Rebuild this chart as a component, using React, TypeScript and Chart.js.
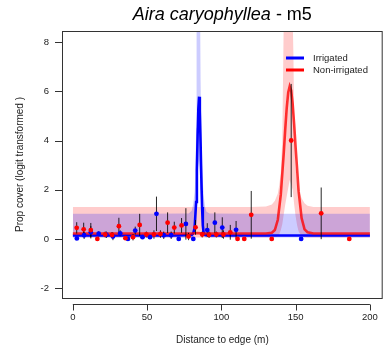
import React, { useEffect, useRef } from "react";
import { Chart, registerables } from "chart.js";

Chart.register(...registerables);

// ---- Data ----
const xTicks = [0, 50, 100, 150, 200];
const yTicks = [-2, 0, 2, 4, 6, 8];

// Non-irrigated (red) observations
const redX = [2.6, 7.3, 12.1, 16.5, 21.8, 26.4, 31.0, 35.4, 40.5, 45.0, 49.5, 54.6, 59.0, 63.8, 68.3, 73.2, 77.9, 82.6, 87.1, 91.7, 96.6, 101.4, 106.0, 110.9, 115.4, 120.1, 133.9, 147.0, 167.2, 186.1];
const redY = [0.45, 0.39, 0.36, 0.0, 0.18, 0.16, 0.52, 0.03, 0.07, 0.57, 0.18, 0.18, 0.2, 0.66, 0.46, 0.55, 0.1, 0.47, 0.18, 0.17, 0.18, 0.18, 0.27, 0.0, 0.0, 0.98, 0.0, 4.0, 1.04, 0.0];
const redErr = [0.23, 0.27, 0.29, 0, 0.12, 0.12, 0.34, 0, 0.13, 0.45, 0.12, 0.17, 0.15, 0.42, 0.24, 0.3, 0.15, 0.3, 0.12, 0.13, 0.12, 0.17, 0.3, 0, 0, 0.97, 0, 2.3, 1.05, 0];

// Irrigated (blue) observations
const blueX = [2.7, 7.6, 12.1, 17.4, 22.6, 27.0, 31.9, 37.1, 42.0, 46.9, 51.9, 56.3, 61.2, 66.2, 71.3, 76.1, 81.1, 90.5, 95.6, 100.6, 109.9, 153.7];
const blueY = [0.02, 0.15, 0.27, 0.21, 0.17, 0.1, 0.23, 0.0, 0.34, 0.07, 0.07, 1.02, 0.15, 0.15, 0.0, 0.61, 0.0, 0.36, 0.66, 0.46, 0.37, 0.0];
const blueErr = [0, 0.15, 0.25, 0.1, 0.13, 0.15, 0.12, 0, 0.16, 0.05, 0.05, 0.7, 0.15, 0.15, 0, 0.64, 0, 0.28, 0.42, 0.42, 0.36, 0];

// Fitted curves
const blueLineX = [0, 20, 40, 60, 70, 76, 80, 81, 82, 83, 83.5, 84, 84.5, 85, 85.5, 86, 86.5, 87, 87.5, 88, 89, 92, 100, 120, 140, 160, 180, 200];
const blueLineY = [0.14, 0.14, 0.14, 0.14, 0.14, 0.15, 0.16, 0.22, 0.45, 1.5, 2.8, 4.2, 5.3, 5.78, 5.2, 3.9, 2.5, 1.3, 0.55, 0.28, 0.16, 0.14, 0.14, 0.14, 0.14, 0.14, 0.14, 0.14];

const redLineX = [0, 20, 40, 60, 80, 84, 88, 100, 120, 130, 134, 136, 138, 140, 142, 143, 144, 145, 146, 147, 148, 149, 150, 152, 154, 156, 158, 162, 180, 200];
const redLineY = [0.22, 0.22, 0.22, 0.22, 0.22, 0.24, 0.22, 0.22, 0.22, 0.22, 0.25, 0.36, 0.78, 1.8, 3.5, 4.46, 5.33, 5.95, 6.2, 6.03, 5.48, 4.65, 3.7, 1.94, 0.85, 0.39, 0.27, 0.22, 0.22, 0.22];

// Confidence bands
const blueBandX = [0, 40, 78, 80, 81, 82, 82.5, 83, 83.3, 84, 85, 85.7, 86, 86.5, 87, 88, 89, 90, 92, 120, 160, 200];
const blueBandHi = [1.02, 1.02, 1.03, 1.15, 1.4, 1.9, 2.6, 4.5, 9, 9, 9, 9, 6.5, 4.5, 3.0, 1.8, 1.3, 1.1, 1.03, 1.02, 1.02, 1.02];
const blueBandLo = [0.06, 0.06, 0.06, 0.06, 0.1, 0.3, 0.6, 1.2, 1.8, 2.8, 3.2, 2.6, 2.0, 1.3, 0.6, 0.2, 0.08, 0.06, 0.06, 0.06, 0.06, 0.06];

const redBandX = [0, 40, 80, 120, 130, 134, 136, 138, 139, 140, 141, 142, 143, 146, 148, 148.5, 149, 150, 151, 152, 154, 156, 158, 162, 200];
const redBandHi = [1.3, 1.3, 1.3, 1.3, 1.32, 1.4, 1.55, 1.85, 2.2, 2.7, 4.0, 9, 9, 9, 9, 7.5, 5.0, 2.9, 2.3, 2.0, 1.65, 1.45, 1.35, 1.3, 1.3];
const redBandLo = [0.06, 0.06, 0.06, 0.06, 0.06, 0.06, 0.08, 0.12, 0.2, 0.35, 0.6, 1.0, 1.4, 2.4, 2.0, 1.7, 1.4, 0.9, 0.55, 0.3, 0.12, 0.07, 0.06, 0.06, 0.06];

const titleItalic = "Aira caryophyllea";
const titleRest = " - m5";
const legendLabels = ["Irrigated", "Non-irrigated"];
const xTitle = "Distance to edge (m)";
const yTitle = "Prop cover (logit transformed )";

const FONT = "'Liberation Sans', Arial, Helvetica, sans-serif";
const BLUE = "#0000ff";
const RED = "#ff0000";

const zip = (xs: number[], ys: number[]) => xs.map((x, i) => ({ x, y: ys[i] }));
const bars = (xs: number[], ys: number[], es: number[]) => {
  const out: any[] = [];
  xs.forEach((x, i) => {
    if (es[i] > 0) {
      out.push({ x, y: ys[i] - es[i] });
      out.push({ x, y: ys[i] + es[i] });
      out.push({ x, y: null });
    }
  });
  return out;
};

const decorPlugin = {
  id: "decor",
  afterDraw(chart: any) {
    const { ctx, chartArea, scales } = chart;
    const xs = scales.x;
    const ys = scales.y;
    ctx.save();
    // box
    ctx.strokeStyle = "#333";
    ctx.lineWidth = 1;
    ctx.strokeRect(chartArea.left + 0.5, chartArea.top + 0.5, chartArea.right - chartArea.left - 1, chartArea.bottom - chartArea.top);
    // x axis (offset below box)
    const axY = chartArea.bottom + 6.5;
    ctx.beginPath();
    ctx.moveTo(xs.getPixelForValue(xTicks[0]), axY);
    ctx.lineTo(xs.getPixelForValue(xTicks[xTicks.length - 1]), axY);
    xTicks.forEach((v) => {
      const p = Math.round(xs.getPixelForValue(v)) + 0.5;
      ctx.moveTo(p, axY);
      ctx.lineTo(p, axY + 6);
    });
    // y ticks
    yTicks.forEach((v) => {
      const p = Math.round(ys.getPixelForValue(v)) + 0.5;
      ctx.moveTo(chartArea.left - 7, p);
      ctx.lineTo(chartArea.left, p);
    });
    ctx.stroke();

    // title
    ctx.fillStyle = "#000";
    ctx.textBaseline = "alphabetic";
    ctx.textAlign = "left";
    ctx.font = `italic 18px ${FONT}`;
    const w1 = ctx.measureText(titleItalic).width;
    ctx.font = `18px ${FONT}`;
    const w2 = ctx.measureText(titleRest).width;
    const cx = (chartArea.left + chartArea.right) / 2;
    const sx = cx - (w1 + w2) / 2;
    ctx.font = `italic 18px ${FONT}`;
    ctx.fillText(titleItalic, sx, 20);
    ctx.font = `18px ${FONT}`;
    ctx.fillText(titleRest, sx + w1, 20);

    // legend
    const lx0 = 286, lx1 = 304;
    const ly = [58, 70];
    const cols = [BLUE, RED];
    ctx.lineWidth = 3;
    legendLabels.forEach((lab, i) => {
      ctx.strokeStyle = cols[i];
      ctx.beginPath();
      ctx.moveTo(lx0, ly[i]);
      ctx.lineTo(lx1, ly[i]);
      ctx.stroke();
      ctx.fillStyle = "#222";
      ctx.font = `9.5px ${FONT}`;
      ctx.textBaseline = "middle";
      ctx.fillText(lab, 313, ly[i]);
    });
    ctx.restore();
  },
};

export default function App() {
  const ref = useRef<HTMLCanvasElement | null>(null);
  useEffect(() => {
    document.body.style.margin = "0";
    const canvas = ref.current!;
    const chart = new Chart(canvas, {
      type: "line",
      data: {
        datasets: [
          // points (top)
          { label: "redPts", data: zip(redX, redY), showLine: false, pointRadius: 2.4, pointBackgroundColor: RED, pointBorderWidth: 0, borderColor: RED, order: 0 } as any,
          { label: "bluePts", data: zip(blueX, blueY), showLine: false, pointRadius: 2.4, pointBackgroundColor: BLUE, pointBorderWidth: 0, borderColor: BLUE, order: 0 } as any,
          // error bars
          { label: "redBars", data: bars(redX, redY, redErr), borderColor: "rgba(0,0,0,0.85)", borderWidth: 1, pointRadius: 0, spanGaps: false, order: 1 } as any,
          { label: "blueBars", data: bars(blueX, blueY, blueErr), borderColor: "rgba(0,0,0,0.85)", borderWidth: 1, pointRadius: 0, spanGaps: false, order: 1 } as any,
          // fitted lines
          { label: "redLine", data: zip(redLineX, redLineY), borderColor: "rgba(255,0,0,0.78)", borderWidth: 2.6, pointRadius: 0, tension: 0, order: 2 } as any,
          { label: "blueLine", data: zip(blueLineX, blueLineY), borderColor: BLUE, borderWidth: 2.6, pointRadius: 0, tension: 0, order: 3 } as any,
          // bands
          { label: "blueHi", data: zip(blueBandX, blueBandHi), borderWidth: 0, borderColor: "rgba(0,0,0,0)", pointRadius: 0, fill: "+1", backgroundColor: "rgba(0,0,255,0.2)", order: 4 } as any,
          { label: "blueLo", data: zip(blueBandX, blueBandLo), borderWidth: 0, borderColor: "rgba(0,0,0,0)", pointRadius: 0, fill: false, order: 4 } as any,
          { label: "redHi", data: zip(redBandX, redBandHi), borderWidth: 0, borderColor: "rgba(0,0,0,0)", pointRadius: 0, fill: "+1", backgroundColor: "rgba(255,0,0,0.2)", order: 5 } as any,
          { label: "redLo", data: zip(redBandX, redBandLo), borderWidth: 0, borderColor: "rgba(0,0,0,0)", pointRadius: 0, fill: false, order: 5 } as any,
        ],
      },
      options: {
        animation: false,
        responsive: false,
        devicePixelRatio: 1,
        layout: { padding: { top: 31, right: 3, left: 0, bottom: 0 } },
        plugins: { legend: { display: false }, title: { display: false }, tooltip: { enabled: false } },
        events: [],
        scales: {
          x: {
            type: "linear",
            min: -7.3,
            max: 208.6,
            grid: { display: false, drawTicks: false },
            border: { display: false },
            ticks: { padding: 14, color: "#222", font: { family: FONT, size: 9.5 } },
            afterBuildTicks: (s: any) => { s.ticks = xTicks.map((v) => ({ value: v })); },
            afterFit: (s: any) => { s.height = 58; },
            title: { display: true, text: xTitle, color: "#222", font: { family: FONT, size: 10 }, padding: { top: 0, bottom: 9.5 } },
          },
          y: {
            type: "linear",
            min: -2.4,
            max: 8.45,
            grid: { display: false, drawTicks: false },
            border: { display: false },
            ticks: { padding: 13, color: "#222", font: { family: FONT, size: 9.5 } },
            afterBuildTicks: (s: any) => { s.ticks = yTicks.map((v) => ({ value: v })); },
            afterFit: (s: any) => { s.width = 62; },
            title: { display: true, text: yTitle, color: "#222", font: { family: FONT, size: 10 }, padding: { top: 14, bottom: 0 } },
          },
        },
      } as any,
      plugins: [decorPlugin],
    });
    return () => chart.destroy();
  }, []);
  return (
    <div style={{ width: 392, height: 356, background: "#fff" }}>
      <canvas ref={ref} width={392} height={356} style={{ width: 392, height: 356, display: "block" }} />
    </div>
  );
}
